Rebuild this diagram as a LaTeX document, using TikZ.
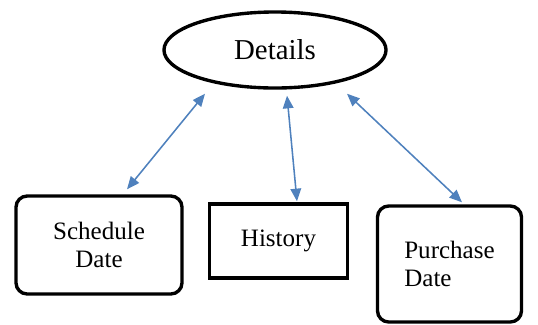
\documentclass[tikz,border=0pt]{standalone}
\usepackage{fontspec}
\setmainfont{Liberation Serif}
\usetikzlibrary{arrows.meta,shapes.geometric,calc}
\definecolor{linkblue}{RGB}{79,129,189}

\begin{document}
\begin{tikzpicture}[x=0.025cm,y=-0.025cm,
  >={Triangle[length=9pt,width=7.5pt]},
  box/.style={draw,line width=2.4pt,inner sep=0pt,
              font=\fontsize{17.8}{20.5}\selectfont},
  link/.style={<->,draw=linkblue,fill=linkblue,line width=1.1pt}]
  \useasboundingbox (0,0) rectangle (538,324);
  \node[box,ellipse,minimum width=5.55cm,minimum height=1.9cm,
        font=\fontsize{20.5}{24}\selectfont] (det) at (275,50) {Details};
  \node[box,rounded corners=8pt,minimum width=4.15cm,minimum height=2.45cm,
        align=center] (sched) at (99,245) {Schedule\\Date};
  \node[box,minimum width=3.45cm,minimum height=1.85cm] (hist) at (278.5,241) {History};
  \node[box,rounded corners=8pt,minimum width=3.6cm,minimum height=2.9cm,
        align=left] (purch) at (449.5,264) {Purchase\\Date};
  \draw[link] ($(det.south)+(-70,4)$) -- ($(sched.north)+(28,-5)$);
  \draw[link] ($(det.south)+(12,6)$) -- ($(hist.north)+(18.5,-1)$);
  \draw[link] ($(det.south)+(72,4)$) -- ($(purch.north)+(12.5,-2)$);
\end{tikzpicture}
\end{document}
